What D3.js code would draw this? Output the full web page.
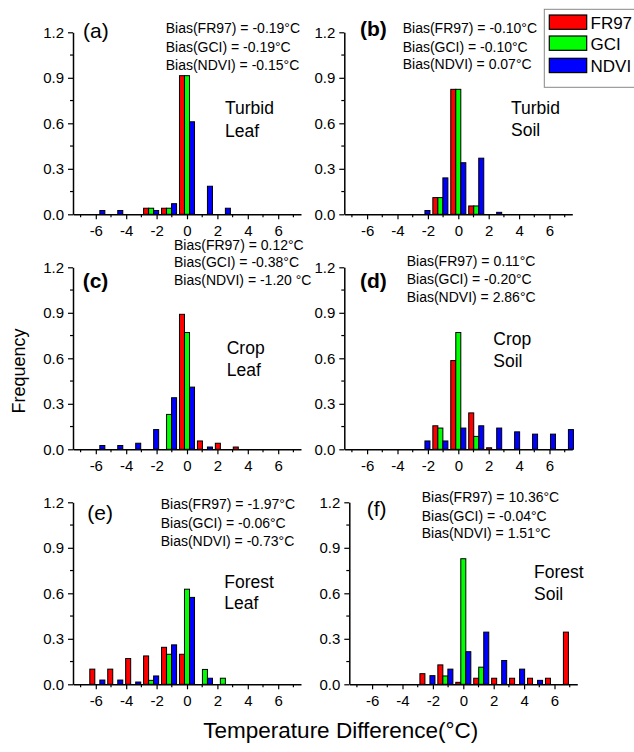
<!DOCTYPE html>
<html>
<head>
<meta charset="utf-8">
<script src="https://cdn.jsdelivr.net/npm/d3@7"></script>
<style>
  body { margin: 0; background: #fff; }
  svg text { font-family: "Liberation Sans", Arial, sans-serif; fill: #000; }
</style>
</head>
<body>
<div id="chart"></div>
<script>
// bin centres of the histogram (degC)
var binCenters = [-5.9, -4.72, -3.54, -2.36, -1.18, 0, 1.18, 2.36, 3.54, 4.72, 5.9, 7.08];
var methods = ["FR97", "GCI", "NDVI"];
var methodColors = ["#ff0000", "#00ff00", "#0000ff"];

// frequencies per panel, one array per method
var turbidLeaf = {
    FR97: [0, 0, 0, 0.04, 0.04, 0.914, 0, 0, 0, 0, 0, 0],
    GCI:  [0, 0, 0, 0.04, 0.04, 0.914, 0, 0, 0, 0, 0, 0],
    NDVI: [0.025, 0.025, 0, 0.025, 0.07, 0.61, 0.185, 0.04, 0, 0, 0, 0]
};
var turbidSoil = {
    FR97: [0, 0, 0, 0, 0.11, 0.824, 0.055, 0, 0, 0, 0, 0],
    GCI:  [0, 0, 0, 0, 0.11, 0.824, 0.055, 0, 0, 0, 0, 0],
    NDVI: [0, 0, 0, 0.025, 0.24, 0.34, 0.37, 0.013, 0, 0, 0, 0]
};
var cropLeaf = {
    FR97: [0, 0, 0, 0, 0, 0.89, 0.055, 0.04, 0.015, 0, 0, 0],
    GCI:  [0, 0, 0, 0, 0.23, 0.77, 0, 0, 0, 0, 0, 0],
    NDVI: [0.025, 0.025, 0.04, 0.13, 0.34, 0.41, 0.015, 0, 0, 0, 0, 0]
};
var cropSoil = {
    FR97: [0, 0, 0, 0, 0.155, 0.585, 0.24, 0.01, 0, 0, 0, 0],
    GCI:  [0, 0, 0, 0, 0.14, 0.77, 0.085, 0, 0, 0, 0, 0],
    NDVI: [0, 0, 0, 0.055, 0.055, 0.14, 0.155, 0.14, 0.115, 0.10, 0.10, 0.13]
};
var forestLeaf = {
    FR97: [0.10, 0.10, 0.17, 0.187, 0.244, 0.198, 0, 0, 0, 0, 0, 0],
    GCI:  [0, 0, 0, 0.026, 0.198, 0.627, 0.098, 0.04, 0, 0, 0, 0],
    NDVI: [0.028, 0.028, 0.015, 0.055, 0.26, 0.573, 0.04, 0, 0, 0, 0, 0]
};
var forestSoil = {
    FR97: [0, 0, 0, 0.07, 0.128, 0.013, 0.04, 0.04, 0.04, 0.04, 0.04, 0.344],
    GCI:  [0, 0, 0, 0, 0.055, 0.828, 0.113, 0, 0, 0, 0, 0],
    NDVI: [0, 0, 0, 0.057, 0.10, 0.215, 0.344, 0.157, 0.10, 0.026, 0, 0]
};

var biasA = ["Bias(FR97) = -0.19°C", "Bias(GCI) = -0.19°C", "Bias(NDVI) = -0.15°C"];
var biasB = ["Bias(FR97) = -0.10°C", "Bias(GCI) = -0.10°C", "Bias(NDVI) = 0.07°C"];
var biasC = ["Bias(FR97) = 0.12°C", "Bias(GCI) = -0.38°C", "Bias(NDVI) = -1.20 °C"];
var biasD = ["Bias(FR97) = 0.11°C", "Bias(GCI) = -0.20°C", "Bias(NDVI) = 2.86°C"];
var biasE = ["Bias(FR97) = -1.97°C", "Bias(GCI) = -0.06°C", "Bias(NDVI) = -0.73°C"];
var biasF = ["Bias(FR97) = 10.36°C", "Bias(GCI) = -0.04°C", "Bias(NDVI) = 1.51°C"];

var xTicks = [-6, -4, -2, 0, 2, 4, 6];
var yTicks = [0, 0.3, 0.6, 0.9, 1.2];

var width = 634, height = 752;
var plotW = 228, plotH = 182;

// layout of the six panels
var panels = [
    {tag: "(a)", data: turbidLeaf, bias: biasA, name: ["Turbid", "Leaf"], left: 73, top: 32.3, bold: false,
     lab: [10, 5.4], bx: 92.7, by: [1, 19.4, 37.7], nx: 152, ny: [82, 104.4]},
    {tag: "(b)", data: turbidSoil, bias: biasB, name: ["Turbid", "Soil"], left: 344.3, top: 32.3, bold: true,
     lab: [15.7, 3.7], bx: 58.4, by: [1, 19.4, 37], nx: 166.7, ny: [82, 103.7]},
    {tag: "(c)", data: cropLeaf, bias: biasC, name: ["Crop", "Leaf"], left: 73, top: 267.3, bold: true,
     lab: [9.7, 21], bx: 101, by: [-17, 0, 17.7], nx: 153.7, ny: [87, 108.7]},
    {tag: "(d)", data: cropSoil, bias: biasD, name: ["Crop", "Soil"], left: 344.3, top: 267.3, bold: true,
     lab: [15.7, 21], bx: 62.4, by: [-1.6, 17, 35], nx: 149, ny: [77.7, 99.4]},
    {tag: "(e)", data: forestLeaf, bias: biasE, name: ["Forest", "Leaf"], left: 73, top: 502.3, bold: false,
     lab: [14.3, 17.7], bx: 87.7, by: [7, 25.4, 43.7], nx: 151.3, ny: [86, 107]},
    {tag: "(f)", data: forestSoil, bias: biasF, name: ["Forest", "Soil"], left: 349.3, top: 502.3, bold: false,
     lab: [17.4, 13.7], bx: 72.4, by: [0, 18.4, 36], nx: 184.7, ny: [76, 97.7]}
];

var svg = d3.select("#chart").append("svg")
    .attr("width", width)
    .attr("height", height);

var xScale = d3.scaleLinear().domain([-7.5, 7.5]).range([0, plotW]);
var yScale = d3.scaleLinear().domain([0, 1.2]).range([plotH, 0]);
var barW = 0.33; // data units, width of one bar
var offsets = [-0.33, 0, 0.33];

panels.forEach(function (p) {
    var g = svg.append("g").attr("transform", "translate(" + p.left + "," + p.top + ")");

    // bars
    methods.forEach(function (m, mi) {
        var vals = binCenters.map(function (c, i) { return {x: c + offsets[mi], y: p.data[m][i]}; })
            .filter(function (d) { return d.y > 0; });
        g.selectAll(null).data(vals).enter().append("rect")
            .attr("x", function (d) { return xScale(d.x - barW / 2); })
            .attr("y", function (d) { return yScale(d.y); })
            .attr("width", function (d) { return xScale(d.x + barW / 2) - xScale(d.x - barW / 2); })
            .attr("height", function (d) { return yScale(0) - yScale(d.y); })
            .attr("fill", methodColors[mi])
            .attr("stroke", "#000")
            .attr("stroke-width", 1);
    });

    // x axis: major ticks at even, minor at odd
    var xAx = g.append("g").attr("transform", "translate(0," + plotH + ")");
    xAx.call(d3.axisBottom(xScale).tickValues(xTicks).tickSize(5).tickPadding(6).tickSizeOuter(0)
        .tickFormat(function (d) { return d; }));
    xAx.selectAll(".minor").data(d3.range(-7, 8, 2)).enter().append("line")
        .attr("x1", function (d) { return xScale(d); })
        .attr("x2", function (d) { return xScale(d); })
        .attr("y1", 0).attr("y2", 3)
        .attr("stroke", "#000").attr("stroke-width", 1.2);

    // y axis
    var yAx = g.append("g");
    yAx.call(d3.axisLeft(yScale).tickValues(yTicks).tickSize(5).tickPadding(4).tickSizeOuter(0)
        .tickFormat(d3.format(".1f")));
    yAx.selectAll(".minor").data([0.15, 0.45, 0.75, 1.05]).enter().append("line")
        .attr("y1", function (d) { return yScale(d); })
        .attr("y2", function (d) { return yScale(d); })
        .attr("x1", 0).attr("x2", -3)
        .attr("stroke", "#000").attr("stroke-width", 1.2);

    [xAx, yAx].forEach(function (a) {
        a.select(".domain").attr("stroke-width", 1.5);
        a.selectAll(".tick line").attr("stroke-width", 1.2);
        a.selectAll("text").attr("font-size", 15)
            .attr("font-family", "Liberation Sans, Arial, sans-serif");
    });

    // panel tag
    g.append("text")
        .attr("x", p.lab[0]).attr("y", p.lab[1])
        .attr("font-size", 21)
        .attr("font-weight", p.bold ? "bold" : "normal")
        .text(p.tag);

    // bias lines
    p.bias.forEach(function (t, i) {
        g.append("text")
            .attr("x", p.bx).attr("y", p.by[i])
            .attr("font-size", 14)
            .text(t);
    });

    // site / surface name
    p.name.forEach(function (t, i) {
        g.append("text")
            .attr("x", p.nx).attr("y", p.ny[i])
            .attr("font-size", 17.5)
            .text(t);
    });
});

// legend
var leg = svg.append("g");
leg.append("rect")
    .attr("x", 544.3).attr("y", 9.3)
    .attr("width", 100).attr("height", 78)
    .attr("fill", "#fff").attr("stroke", "#888").attr("stroke-width", 1);
var legY = [15, 36, 58.3];
methods.forEach(function (m, i) {
    leg.append("rect")
        .attr("x", 549.3).attr("y", legY[i])
        .attr("width", 37.4).attr("height", 14.3)
        .attr("fill", methodColors[i])
        .attr("stroke", "#000").attr("stroke-width", 1.2);
    leg.append("text")
        .attr("x", 590.5).attr("y", legY[i] + 13.5)
        .attr("font-size", 17)
        .text(m);
});

// axis titles
svg.append("text")
    .attr("x", 340.8).attr("y", 737.5)
    .attr("text-anchor", "middle")
    .attr("font-size", 22.5)
    .text("Temperature Difference(°C)");
svg.append("text")
    .attr("transform", "translate(25,371) rotate(-90)")
    .attr("text-anchor", "middle")
    .attr("font-size", 18)
    .text("Frequency");
</script>
</body>
</html>
